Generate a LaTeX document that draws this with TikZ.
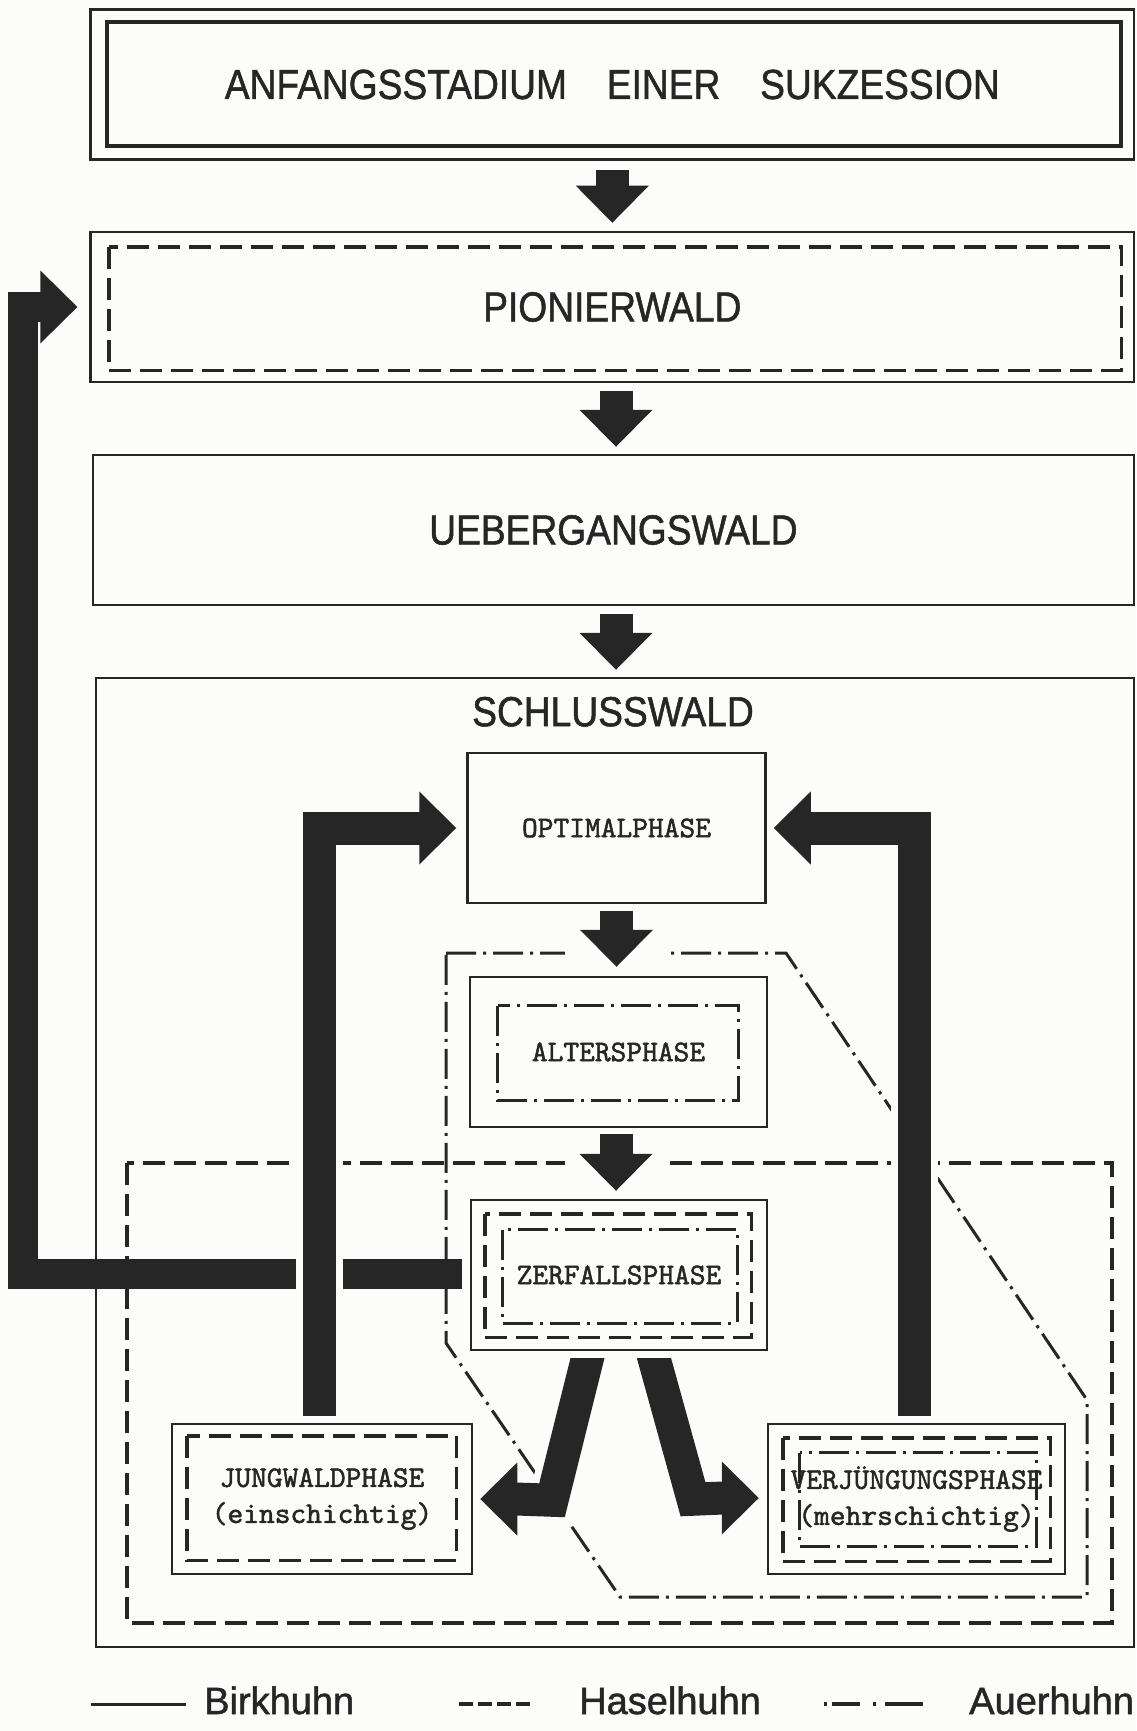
\documentclass[tikz,border=0pt]{standalone}
\usepackage{fontspec}
\setmainfont{Liberation Sans}
\newfontfamily\dinfont[FakeBold=1.3]{Liberation Sans}
\newfontfamily\twfont[FakeBold=1.6]{lmmono10-regular.otf}
\usetikzlibrary{calc}
\definecolor{ink}{HTML}{262626}
\definecolor{paper}{HTML}{FCFCFA}
\newcommand\bigtxt[1]{\scalebox{0.885}[1]{\dinfont\fontsize{42pt}{50pt}\selectfont #1}}
\newcommand\headdown[1]{\fill[ink] (#1) -- ++(-36.5,-37) -- ++(73,0) -- cycle;}
\newcommand\headleft[1]{\fill[ink] (#1) -- ++(37,-36.5) -- ++(0,73) -- cycle;}
\newcommand\headright[1]{\fill[ink] (#1) -- ++(-37,-36.5) -- ++(0,73) -- cycle;}
\begin{document}
\begin{tikzpicture}[x=1pt,y=-1pt,
  box/.style={draw=ink, line width=2.5pt, inner sep=0pt, text=ink},
  bigbox/.style={box, minimum width=1043.4pt, minimum height=150pt},
  phase/.style={box, minimum width=298pt, minimum height=150pt, align=center,
    font=\twfont\fontsize{30pt}{36pt}\selectfont},
  has/.style={draw=ink, line width=3.5pt, dash pattern=on 22pt off 9pt},
  auer/.style={draw=ink, line width=3pt, dash pattern=on 30pt off 7pt on 3pt off 7pt},
  shaft/.style={draw=ink, line width=33pt, line join=miter},
  halo/.style={draw=paper, line width=47pt, line join=miter},
  leg/.style={text=ink, font=\dinfont\fontsize{38pt}{44pt}\selectfont, inner sep=0pt, anchor=base west}
]
\fill[paper] (0,0) rectangle (1136,1731);
\useasboundingbox (0,0) rectangle (1136,1731);

% main column
\node[bigbox] (b1) at (612.3,84.5) {\bigtxt{ANFANGSSTADIUM\hspace{45pt}EINER\hspace{45pt}SUKZESSION}};
\draw[ink, line width=4pt] ($(b1.north west)+(18,14)$) rectangle ($(b1.south east)+(-14,-15)$);
\node[bigbox] (b2) at (612.3,307) {\bigtxt{PIONIERWALD}};
\draw[has] ($(b2.north west)+(19.5,16)$) rectangle ($(b2.south east)+(-14,-13)$);
\node[bigbox, minimum width=1041.2pt] (b3) at (613.4,530) {\bigtxt{UEBERGANGSWALD}};
\node[box, minimum width=1038pt, minimum height=969pt] (b4) at (615,1162.5) {};
\node[text=ink, inner sep=0pt] (swl) at ($(b4.north)+(-2,35)$) {\bigtxt{SCHLUSSWALD}};

% phases
\node[phase] (opt) at (616.5,828) {OPTIMALPHASE};
\node[phase, minimum width=297pt] (alt) at (618.5,1052) {ALTERSPHASE};
\draw[auer] ($(alt.north west)+(29,30)$) rectangle ($(alt.south east)+(-30,-28)$);
\node[phase, minimum width=296pt] (zer) at (619,1275) {ZERFALLSPHASE};
\draw[has] ($(zer.north west)+(15,15)$) rectangle ($(zer.south east)+(-17,-14)$);
\draw[auer] ($(zer.north west)+(33,31)$) rectangle ($(zer.south east)+(-31,-28)$);
\node[phase, minimum width=300pt] (jung) at (322,1499) {JUNGWALDPHASE\\(einschichtig)};
\draw[has] ($(jung.north west)+(16,13)$) rectangle ($(jung.south east)+(-17,-15)$);
\node[phase, minimum width=297pt] (verj) at (916.5,1499) {VERJÜNGUNGSPHASE\\(mehrschichtig)};
\draw[has] ($(verj.north west)+(16,15)$) rectangle ($(verj.south east)+(-16,-14)$);
\draw[auer] ($(verj.north west)+(33,30)$) rectangle ($(verj.south east)+(-30,-29)$);

% habitat outlines
\draw[has] (127,1163) rectangle (1112,1623);
\draw[auer] (446,953) -- (786,953) -- (1087,1400) -- (1087,1597) -- (620,1597) -- (446,1343) -- cycle;

% down arrows
\coordinate (t1) at ($(b2.north)+(0,-8)$);
\draw[shaft] ($(b1.south)+(0,9)$) -- ($(t1)+(0,-36)$);
\headdown{t1}
\coordinate (t2) at ($(b3.north)+(2.6,-7)$);
\draw[shaft] ($(b2.south)+(3.7,8)$) -- ($(t2)+(0,-36)$);
\headdown{t2}
\coordinate (t3) at ($(b4.north)+(1,-7)$);
\draw[shaft] ($(b3.south)+(2.6,8)$) -- ($(t3)+(0,-36)$);
\headdown{t3}
\fill[paper] ($(opt.south)+(-52,7)$) rectangle ($(alt.north)+(50,-9)$);
\coordinate (t4) at ($(alt.north)+(-2,-9)$);
\draw[shaft] ($(opt.south)+(0,7)$) -- ($(t4)+(0,-36)$);
\headdown{t4}
\fill[paper] ($(alt.south)+(-54,6)$) rectangle ($(zer.north)+(49,-8)$);
\coordinate (t5) at ($(zer.north)+(-3,-8)$);
\draw[shaft] ($(alt.south)+(-2.5,6)$) -- ($(t5)+(0,-36)$);
\headdown{t5}

% big return arrow to Pionierwald
\coordinate (sL) at ($(zer.west)+(-8,-1)$);
\coordinate (tL) at ($(b2.west)+(-12,0)$);
\draw[shaft, line width=30pt] (sL) -| ($(tL)+(-54,0)$) -- ($(tL)+(-36,0)$);
\headright{tL}

% L arrows to Optimalphase
\coordinate (sLL) at ($(jung.north)+(-3,-7)$);
\coordinate (tLL) at ($(opt.west)+(-10,0)$);
\draw[halo] (sLL) -- (sLL |- tLL);
\draw[shaft] (sLL) |- ($(tLL)+(-36,0)$);
\headright{tLL}
\coordinate (sRR) at ($(verj.north)+(-2.5,-7)$);
\coordinate (tRR) at ($(opt.east)+(7,0)$);
\draw[halo] (sRR) -- (sRR |- tRR);
\draw[shaft] (sRR) |- ($(tRR)+(36,0)$);
\headleft{tRR}

% split arrows from Zerfallsphase
\begin{scope}
\clip ($(zer.south)+(-300,7)$) rectangle ($(zer.south)+(300,250)$);
\coordinate (c1) at ($(zer.south)+(-67,149)$);
\coordinate (tj) at ($(jung.east)+(7,0)$);
\draw[halo] ($(zer.south)+(-27.3,-10)$) -- (c1) -- (tj);
\draw[shaft] ($(zer.south)+(-27.3,-10)$) -- (c1) -- ($(tj)+(36,0)$);
\headleft{tj}
\coordinate (c2) at ($(zer.south)+(74,148)$);
\coordinate (tv) at ($(verj.west)+(-8,-1)$);
\draw[shaft] ($(zer.south)+(30.3,-10)$) -- (c2) -- ($(tv)+(-36,0)$);
\headright{tv}
\end{scope}

% legend
\node[leg] (lb) at (204,1714) {Birkhuhn};
\node[leg] (lh) at (579,1714) {Haselhuhn};
\node[leg] (la) at (969,1714) {Auerhuhn};
\draw[ink, line width=3pt] ($(lb.base west)+(-113,-10)$) -- ($(lb.base west)+(-18,-10)$);
\draw[ink, line width=3.5pt, dash pattern=on 14pt off 5pt] ($(lh.base west)+(-120,-10)$) -- ($(lh.base west)+(-49,-10)$);
\draw[ink, line width=3.5pt, dash pattern=on 3pt off 5pt on 28pt off 13pt on 3pt off 9pt on 38pt off 5pt] ($(la.base west)+(-145,-10)$) -- ($(la.base west)+(-46,-10)$);
\end{tikzpicture}
\end{document}
